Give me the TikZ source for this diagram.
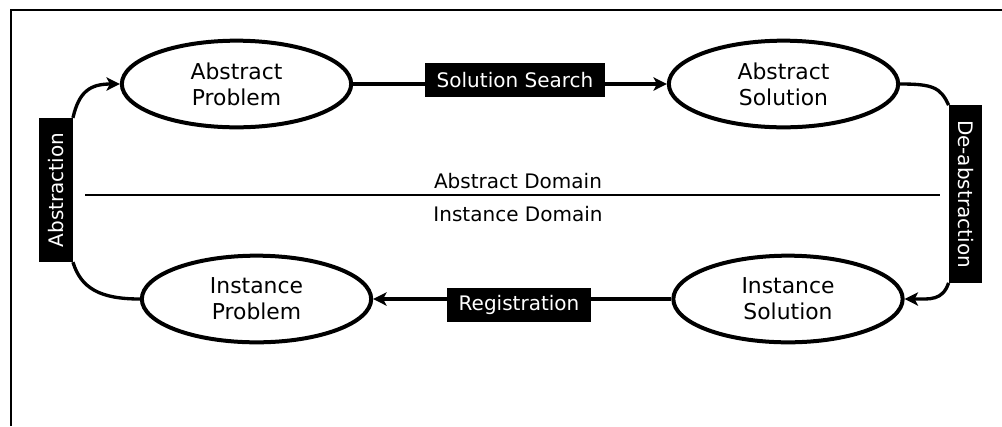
\documentclass[tikz,border=0pt]{standalone}
\usepackage{fontspec}
\setmainfont{DejaVu Sans}
\usetikzlibrary{shapes.geometric,arrows.meta}
\begin{document}
\begin{tikzpicture}[x=0.75pt,y=-0.75pt,
  state/.style={ellipse,draw,line width=3pt,minimum width=172pt,minimum height=65pt,
    inner sep=0pt,align=center,font=\fontsize{16.4}{19.5}\selectfont},
  tag/.style={fill=black,text=white,font=\fontsize{15}{18}\selectfont,
    inner xsep=8.5pt,inner ysep=0pt,minimum height=25pt},
  sidetag/.style={tag,inner xsep=11pt},
  link/.style={line width=2.5pt},
  tip/.style={-{Stealth[length=10pt,width=10pt,inset=2.5pt]}},
  domtext/.style={font=\fontsize{15}{18}\selectfont,inner sep=0pt}]
\useasboundingbox (0,0) rectangle (1002,426);

% frame
\draw[line width=2pt] (11,426) -- (11,10) -- (1002,10);

% the four states
\node[state] (ap) at (236.5,84)  {Abstract\\Problem};
\node[state] (as) at (783.5,84)  {Abstract\\Solution};
\node[state] (ip) at (256.5,299) {Instance\\Problem};
\node[state] (is) at (788,299)   {Instance\\Solution};

% domain separator
\coordinate (divL) at (85,195);
\coordinate (divR) at (940,195);
\draw[line width=0.8pt] (divL) -- (divR);
\node[domtext] (absdom) at (518,181) {Abstract Domain};
\node[domtext] (insdom) at (518,214) {Instance Domain};

% horizontal transitions
\draw[link,tip] (ap.east) -- (as.west);
\draw[link,tip] (is.west) -- (ip.east);
\node[tag] (search) at (515,80)  {Solution Search};
\node[tag] (reg)    at (519,305) {Registration};

% vertical transitions
\node[sidetag,rotate=90]  (abst) at (56,190)    {Abstraction};
\node[sidetag,rotate=-90] (deab) at (965.5,194) {De-abstraction};

\draw[link,tip] (abst.south east) .. controls +(6,-26) and +(-30,0) .. (ap.west);
\draw[link] (ip.west) .. controls +(-40,0) and +(8,26) .. (abst.south west);
\draw[link] (as.east) .. controls +(32,0) and +(-8,-18) .. (deab.south west);
\draw[link,tip] (deab.south east) .. controls +(-6,18) and +(25,0) .. (is.east);
\end{tikzpicture}
\end{document}
